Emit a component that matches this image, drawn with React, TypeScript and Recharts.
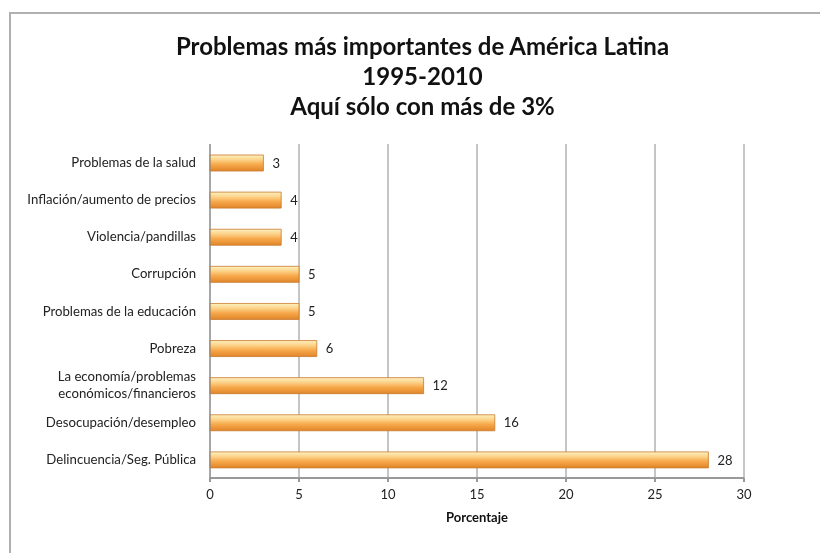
import React from "react";
import { BarChart, Bar, XAxis, YAxis, CartesianGrid, LabelList } from "recharts";

const categories = [
  "Problemas de la salud",
  "Inflación/aumento de precios",
  "Violencia/pandillas",
  "Corrupción",
  "Problemas de la educación",
  "Pobreza",
  "La economía/problemas\neconómicos/financieros",
  "Desocupación/desempleo",
  "Delincuencia/Seg. Pública",
];
const values = [3, 4, 4, 5, 5, 6, 12, 16, 28];
const xTicks = [0, 5, 10, 15, 20, 25, 30];
const titleLines = [
  "Problemas más importantes de América Latina",
  "1995-2010",
  "Aquí sólo con más de 3%",
];
const xLabel = "Porcentaje";

const data = categories.map((c, i) => ({ name: c, value: values[i] }));

const FONT = "Lato, 'Open Sans', sans-serif";

const CatTick = (props: any) => {
  const { x, y, payload } = props;
  const lines = String(payload.value).split("\n");
  const lh = 16.5;
  const start = -((lines.length - 1) * lh) / 2;
  return (
    <text
      x={x}
      y={y}
      textAnchor="end"
      fontSize={13.2}
      fill="#222"
      fontFamily={FONT}
    >
      {lines.map((l, i) => (
        <tspan key={i} x={x} dy={i === 0 ? start + 4.5 : lh}>
          {l}
        </tspan>
      ))}
    </text>
  );
};

export default function App() {
  return (
    <div style={{ position: "relative", width: 812, height: 537, fontFamily: FONT }}>
      <div
        style={{
          position: "fixed",
          left: 9,
          top: 12,
          right: 0,
          bottom: 0,
          borderLeft: "2px solid #b0b0b0",
          borderTop: "2px solid #b0b0b0",
        }}
      />
      <div
        style={{
          position: "absolute",
          left: 0,
          width: 829,
          top: 23,
          textAlign: "center",
          fontWeight: 700,
          fontSize: 24,
          lineHeight: "30px",
          color: "#111",
          fontFamily: FONT,
        }}
      >
        {titleLines.map((t, i) => (
          <div key={i}>{t}</div>
        ))}
      </div>
      <div style={{ position: "absolute", left: 0, top: 0 }}>
        <BarChart
          width={812}
          height={537}
          data={data}
          layout="vertical"
          margin={{ top: 136, right: 76, bottom: 17, left: 0 }}
          barCategoryGap={0}
        >
          <defs>
            <linearGradient id="barGrad" x1="0" y1="0" x2="0" y2="1">
              <stop offset="0%" stopColor="#fdf1c0" />
              <stop offset="30%" stopColor="#fcd288" />
              <stop offset="60%" stopColor="#f7a84a" />
              <stop offset="100%" stopColor="#e0852a" />
            </linearGradient>
          </defs>
          <CartesianGrid horizontal={false} vertical={true} stroke="#8c8c8c" strokeWidth={1} />
          <XAxis
            type="number"
            domain={[0, 30]}
            ticks={xTicks}
            interval={0}
            stroke="#999"
            strokeWidth={2}
            tickSize={4}
            tickMargin={8}
            tick={{ fontSize: 13, fill: "#222", fontFamily: FONT }}
            height={50}
            label={{
              value: xLabel,
              position: "insideBottom",
              offset: 6,
              fontSize: 13,
              fontWeight: 700,
              fill: "#111",
              fontFamily: FONT,
            }}
          />
          <YAxis
            type="category"
            dataKey="name"
            width={202}
            stroke="#888"
            tickLine={false}
            tickSize={6}
            tickMargin={8}
            interval={0}
            tick={<CatTick />}
          />
          <Bar
            dataKey="value"
            barSize={16}
            fill="url(#barGrad)"
            stroke="#c97a2c"
            strokeWidth={0.8}
            isAnimationActive={false}
          >
            <LabelList
              dataKey="value"
              position="right"
              offset={9}
              fontSize={13}
              fill="#222"
              fontFamily={FONT}
            />
          </Bar>
        </BarChart>
      </div>
    </div>
  );
}
